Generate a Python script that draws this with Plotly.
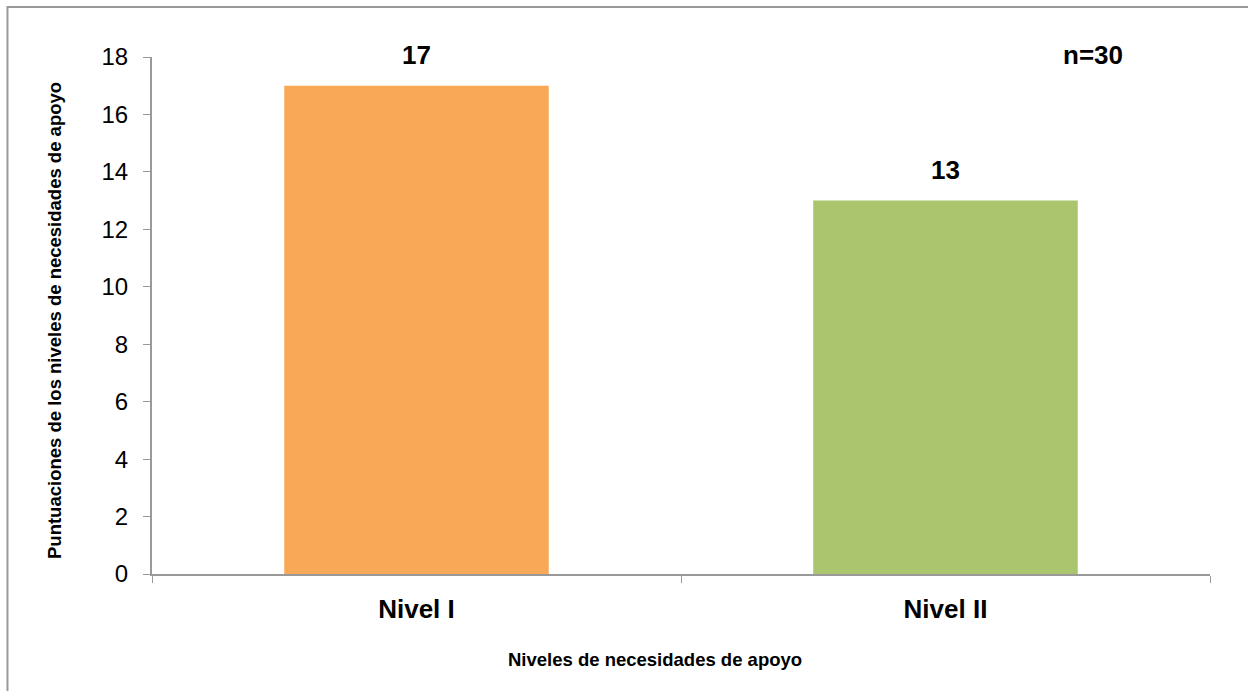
import plotly.graph_objects as go

categories = ["Nivel I", "Nivel II"]
values = [17, 13]
colors = ["#F9A857", "#AAC56D"]
y_ticks = [0, 2, 4, 6, 8, 10, 12, 14, 16, 18]
x_title = "Niveles de necesidades de apoyo"
y_title = "Puntuaciones de los niveles de necesidades de apoyo"
note = "n=30"

FONT = "Liberation Sans, Arial"

fig = go.Figure()
fig.add_trace(go.Bar(
    x=categories, y=values, marker=dict(color=colors, line=dict(width=0)),
    width=0.5, showlegend=False, hoverinfo="x+y",
))

for c, v in zip(categories, values):
    fig.add_annotation(x=c, y=v, text=f"<b>{v}</b>", showarrow=False,
                       yshift=31, font=dict(family=FONT, size=26, color="#000"))

fig.add_annotation(xref="paper", yref="paper", x=0.889, y=1.004, xanchor="center", yanchor="middle",
                   text=f"<b>{note}</b>", showarrow=False,
                   font=dict(family=FONT, size=26, color="#000"))

# axis titles
fig.add_annotation(xref="paper", yref="paper", x=0.4754, y=-0.166, xanchor="center", yanchor="middle",
                   text=f"<b>{x_title}</b>", showarrow=False,
                   font=dict(family=FONT, size=18.5, color="#000"))
fig.add_annotation(xref="paper", yref="paper", x=-0.0917, y=0.4913, xanchor="center", yanchor="middle",
                   textangle=-90, text=f"<b>{y_title}</b>", showarrow=False,
                   font=dict(family=FONT, size=18.5, color="#000"))

# outer frame
fig.add_shape(type="rect", xref="paper", yref="paper",
              x0=-0.1366, x1=1.06, y0=-0.26, y1=1.0967,
              line=dict(color="#999999", width=2), layer="below")

fig.update_layout(
    width=1248, height=691,
    margin=dict(l=152, r=38, t=57, b=117),
    paper_bgcolor="white", plot_bgcolor="white",
    font=dict(family=FONT, color="#000"),
    xaxis=dict(
        showline=True, linecolor="#999999", linewidth=2,
        ticks="outside", tickson="boundaries", ticklen=7, tickcolor="#999999", tickwidth=1,
        tickfont=dict(size=26), tickprefix="<b>", ticksuffix="</b>", ticklabelstandoff=11,
        showgrid=False,
    ),
    yaxis=dict(
        range=[0, 18], tickvals=y_ticks,
        showline=True, linecolor="#999999", linewidth=2,
        ticks="outside", ticklen=7, tickcolor="#999999", tickwidth=1,
        tickfont=dict(size=24), ticklabelstandoff=10,
        showgrid=False, zeroline=False,
    ),
)

fig.write_html("out.html")
